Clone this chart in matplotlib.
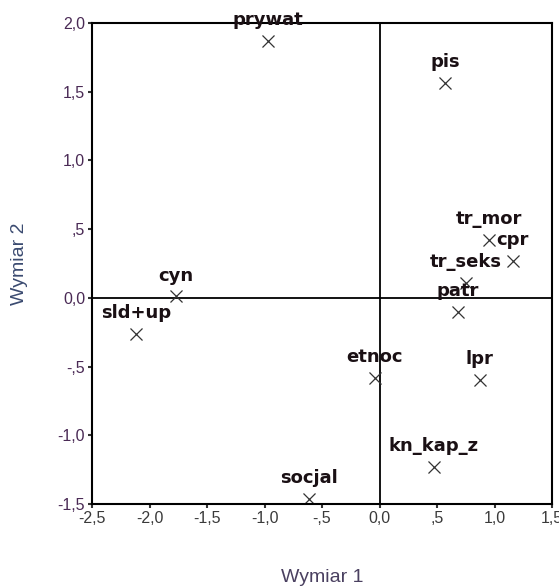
import matplotlib
matplotlib.use("Agg")
import matplotlib.pyplot as plt
from matplotlib.ticker import FixedLocator

# object labels and their coordinates in two dimensions
labels = ["prywat", "pis", "tr_mor", "cpr", "tr_seks", "patr", "cyn", "sld+up",
          "etnoc", "lpr", "kn_kap_z", "socjal"]
dim1 = [-0.97, 0.57, 0.95, 1.16, 0.75, 0.68, -1.77, -2.12, -0.04, 0.87, 0.47, -0.61]
dim2 = [1.87, 1.56, 0.42, 0.27, 0.11, -0.10, 0.01, -0.26, -0.58, -0.60, -1.23, -1.46]

xticks = [-2.5, -2.0, -1.5, -1.0, -0.5, 0.0, 0.5, 1.0, 1.5]
xtick_labels = ["-2,5", "-2,0", "-1,5", "-1,0", "-,5", "0,0", ",5", "1,0", "1,5"]
yticks = [-1.5, -1.0, -0.5, 0.0, 0.5, 1.0, 1.5, 2.0]
ytick_labels = ["-1,5", "-1,0", "-,5", "0,0", ",5", "1,0", "1,5", "2,0"]

fig = plt.figure(figsize=(5.59, 5.88), dpi=100)
ax = fig.add_axes([92 / 559, 84 / 588, 460 / 559, 481 / 588])

ax.axhline(0, color="black", lw=1.3, zorder=1)
ax.axvline(0, color="black", lw=1.3, zorder=1)

ax.scatter(dim1, dim2, marker="x", s=75, color="#333333", linewidths=0.9, zorder=2)
for name, x, y in zip(labels, dim1, dim2):
    ax.annotate(name, (x, y), xytext=(0, 11.5), textcoords="offset points",
                ha="center", va="baseline", fontsize=13, fontweight="heavy",
                family="DejaVu Sans", color="#1a1014", zorder=3,
                annotation_clip=False)

ax.set_xlim(-2.5, 1.5)
ax.set_ylim(-1.5, 2.0)
ax.xaxis.set_major_locator(FixedLocator(xticks))
ax.yaxis.set_major_locator(FixedLocator(yticks))
ax.set_xticklabels(xtick_labels, fontsize=11.5, color="#3a3a3a", family="Liberation Sans")
ax.set_yticklabels(ytick_labels, fontsize=11.5, color="#4a2a55", family="Liberation Sans")
ax.tick_params(direction="out", length=3, width=1.5, color="#333333", pad=2)

for s in ax.spines.values():
    s.set_linewidth(1.5)
    s.set_color("black")

ax.set_xlabel("Wymiar 1", fontsize=14, color="#4a4060", family="Liberation Sans", labelpad=31)
ax.set_ylabel("Wymiar 2", fontsize=14, color="#3a4a70", family="Liberation Sans", labelpad=21)

fig.savefig("out.png", dpi=100)
